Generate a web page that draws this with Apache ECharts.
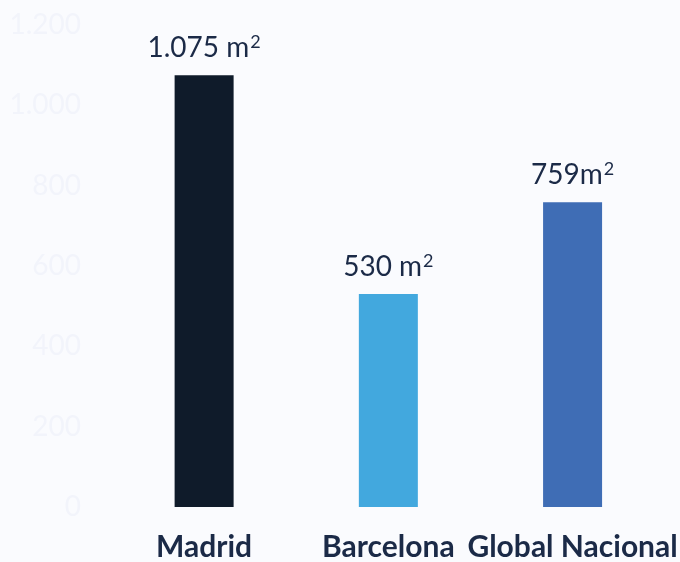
<!DOCTYPE html>
<html><head><meta charset="utf-8">
<script src="https://cdn.jsdelivr.net/npm/echarts@6/dist/echarts.min.js"></script>
<style>html,body{margin:0;padding:0;background:#FAFBFE;}#c{width:680px;height:562px;}</style>
</head><body><div id="c"></div>
<script>
const categories = ['Madrid', 'Barcelona', 'Global Nacional'];
const values = [1075, 530, 759];
const valueTexts = ['1.075 m', '530 m', '759m'];
const barColors = ['#0F1B2A', '#42A8DE', '#3F6DB5'];
const yTicks = [0, 200, 400, 600, 800, 1000, 1200];

const chart = echarts.init(document.getElementById('c'), null, {renderer: 'canvas'});
chart.setOption({
  backgroundColor: '#FAFBFE',
  animation: false,
  grid: {left: 112, right: 11, top: 25, bottom: 55, containLabel: false},
  xAxis: {
    type: 'category', data: categories,
    axisLine: {show: false}, axisTick: {show: false},
    axisLabel: {color: '#1B2A47', fontFamily: 'Lato', fontWeight: 'bold', fontSize: 30, margin: 25, interval: 0}
  },
  yAxis: {
    type: 'value', min: 0, max: 1200, interval: 200,
    splitLine: {show: false}, axisLine: {show: false}, axisTick: {show: false},
    axisLabel: {color: '#F2F4FB', fontFamily: 'Lato', fontSize: 28, margin: 31,
      formatter: v => yTicks.includes(v) ? v.toLocaleString('de-DE') : ''}
  },
  series: [{
    type: 'bar', barWidth: 59,
    data: values.map((v, i) => ({value: v, itemStyle: {color: barColors[i]}})),
    label: {
      show: true, position: 'top', distance: 12,
      formatter: p => '{a|' + valueTexts[p.dataIndex] + '}{s|2}',
      rich: {
        a: {color: '#1B2A47', fontFamily: 'Lato', fontSize: 28},
        s: {color: '#1B2A47', fontFamily: 'Lato', fontSize: 18, verticalAlign: 'top', padding: [0, 0, 12, 1]}
      }
    }
  }]
});
</script></body></html>
